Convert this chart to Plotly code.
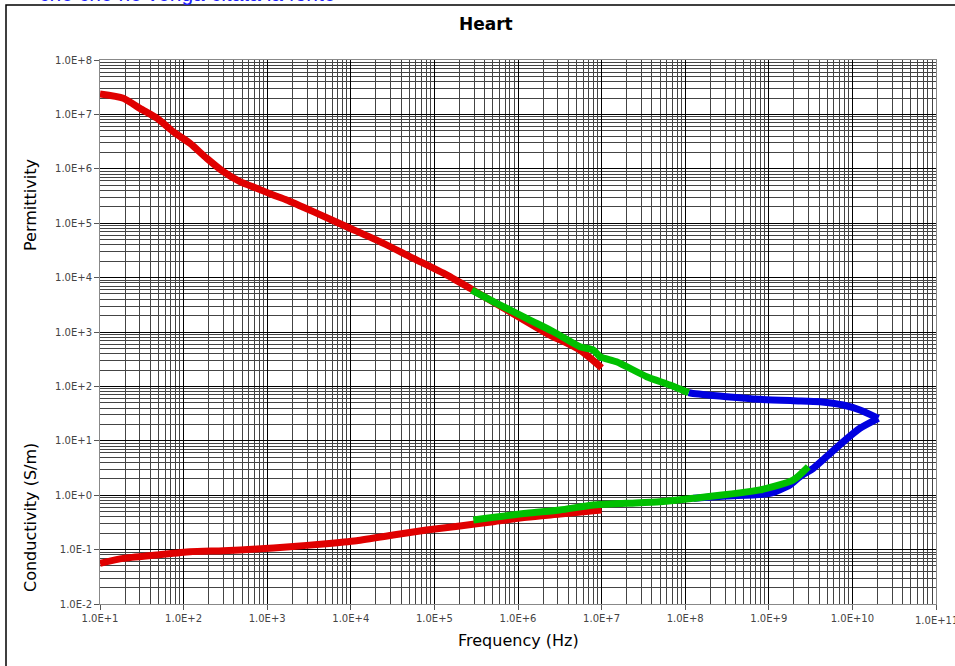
import plotly.graph_objects as go

# ---------------- data ----------------
perm_red_f = [10, 19, 30, 48, 75, 119, 189, 299, 473, 748, 1180, 1710, 3560, 8930,
              22300, 56000, 1.4e5, 2.67e5, 6.1e5, 2.2e6, 5.5e6, 1e7]
perm_red = [2.37e7, 1.98e7, 1.29e7, 8.5e6, 4.8e6, 2.94e6, 1.56e6, 8.85e5, 5.8e5, 4.38e5,
            3.3e5, 2.67e5, 1.63e5, 8.6e4, 4.57e4, 2.26e4, 1.12e4, 6.36e3, 3.0e3, 946, 467, 220]

perm_green_f = [2.8e5, 5.56e5, 1.39e6, 2.65e6, 5.5e6, 7.96e6, 9.57e6, 1.51e7, 3.46e7, 6.57e7, 1.1e8]
perm_green = [5.9e3, 3.37e3, 1.66e3, 1.01e3, 537, 467, 352, 284, 151, 106, 76.6]

perm_blue_f = [1.1e8, 1.19e8, 3.13e8, 7.85e8, 1.96e9, 4.09e9, 7.78e9, 1.23e10, 2.04e10]
perm_blue = [76.6, 74.6, 64.7, 58, 54.6, 52.4, 45.5, 36.8, 25.9]

cond_red_f = [10, 19, 47.5, 119, 299, 748, 1875, 4690, 1.17e4, 3.21e4, 8.07e4, 2.02e5,
              5.07e5, 1.27e6, 3.18e6, 7.96e6, 1e7]
cond_red = [0.056, 0.069, 0.0796, 0.0915, 0.0955, 0.1026, 0.113, 0.127, 0.146, 0.185,
            0.229, 0.272, 0.326, 0.393, 0.451, 0.519, 0.534]

cond_green_f = [2.92e5, 1.27e6, 3.17e6, 7.96e6, 1.99e7, 5.0e7, 1.25e8, 7.85e8, 1.96e9, 2.97e9]
cond_green = [0.35, 0.465, 0.535, 0.66, 0.71, 0.76, 0.877, 1.25, 1.9, 3.34]

cond_blue_f = [1.25e8, 3.13e8, 1.03e9, 1.79e9, 2.36e9, 3.4e9, 4.91e9, 7.78e9, 1.23e10, 2.04e10]
cond_blue = [0.877, 0.966, 1.08, 1.54, 2.19, 3.12, 5.1, 9.6, 17.0, 25.9]

x_tick_exp = list(range(1, 12))
x_tick_labels = ["1.0E+1", "1.0E+2", "1.0E+3", "1.0E+4", "1.0E+5", "1.0E+6",
                 "1.0E+7", "1.0E+8", "1.0E+9", "1.0E+10", "1.0E+11"]
y_tick_exp = list(range(-2, 9))
y_tick_labels = ["1.0E-2", "1.0E-1", "1.0E+0", "1.0E+1", "1.0E+2", "1.0E+3",
                 "1.0E+4", "1.0E+5", "1.0E+6", "1.0E+7", "1.0E+8"]

RED = "#e00000"
GREEN = "#00c000"
BLUE = "#0000e0"
LW = 7

fig = go.Figure()
series = [
    (perm_red_f, perm_red, RED),
    (cond_red_f, cond_red, RED),
    (perm_blue_f, perm_blue, BLUE),
    (cond_blue_f, cond_blue, BLUE),
    (perm_green_f, perm_green, GREEN),
    (cond_green_f, cond_green, GREEN),
]
for fx, fy, col in series:
    fig.add_trace(go.Scatter(x=fx, y=fy, mode="lines",
                             line=dict(color=col, width=LW, shape="spline", smoothing=0.6),
                             showlegend=False, hoverinfo="skip", cliponaxis=False))

minor_x = [k * 10 ** n for n in range(1, 11) for k in range(2, 10)]
minor_y = [k * 10 ** n for n in range(-2, 8) for k in range(2, 10)]

FONT = "DejaVu Sans, Liberation Sans, Arial, sans-serif"
FONT2 = "Liberation Sans, Arial, sans-serif"
TICKFONT = dict(family=FONT, size=10, color="#444")

common = dict(
    tickmode="array",
    tickfont=TICKFONT,
    ticks="outside", ticklen=5, tickcolor="#555",
    showgrid=True, gridcolor="#000", gridwidth=1,
    showline=True, linecolor="#888", linewidth=1, mirror=True,
    zeroline=False, automargin=False,
)
fig.update_xaxes(
    type="log", range=[1, 11],
    tickvals=[10 ** e for e in x_tick_exp], ticktext=x_tick_labels,
    minor=dict(tickmode="array", tickvals=minor_x, showgrid=True, gridcolor="#444", gridwidth=1, ticks=""),
    **common,
)
fig.update_yaxes(
    type="log", range=[-2, 8],
    tickvals=[10 ** e for e in y_tick_exp], ticktext=y_tick_labels,
    minor=dict(tickmode="array", tickvals=minor_y, showgrid=True, gridcolor="#444", gridwidth=1, ticks=""),
    **common,
)

W, H = 955, 666
L, R, T, B = 100, 19, 60, 62
PW, PH = W - L - R, H - T - B


def px(xp):
    return (xp - L) / PW


def py(yp):
    return (H - B - yp) / PH


fig.update_layout(
    width=W, height=H,
    margin=dict(l=L, r=R, t=T, b=B, autoexpand=False),
    paper_bgcolor="white", plot_bgcolor="white",
    font=dict(family=FONT, color="black"),
    shapes=[dict(type="rect", xref="paper", yref="paper",
                 x0=px(6), x1=px(960), y0=py(5), y1=py(675),
                 line=dict(color="black", width=1.5), fillcolor="rgba(0,0,0,0)", layer="below")],
    annotations=[
        dict(text="<b>Heart</b>", xref="paper", yref="paper", x=px(486), y=py(24),
             showarrow=False, xanchor="center", yanchor="middle",
             font=dict(family=FONT, size=17, color="black")),
        dict(text="Permittivity", xref="paper", yref="paper", x=px(30), y=py(205),
             showarrow=False, textangle=-90, xanchor="center", yanchor="middle",
             font=dict(family=FONT, size=16, color="black")),
        dict(text="Conductivity (S/m)", xref="paper", yref="paper", x=px(30), y=py(518),
             showarrow=False, textangle=-90, xanchor="center", yanchor="middle",
             font=dict(family=FONT, size=16, color="black")),
        dict(text="Frequency (Hz)", xref="paper", yref="paper", x=px(518), y=py(640),
             showarrow=False, xanchor="center", yanchor="middle",
             font=dict(family=FONT, size=16, color="black")),
        # last x tick label, clipped by the page edge as in the reference
        dict(text=x_tick_labels[-1], xref="x", yref="paper", x=x_tick_exp[-1], y=py(620),
             showarrow=False, xanchor="center", yanchor="middle", font=TICKFONT),
        dict(text="che che ne venga citata la fonte", xref="paper", yref="paper",
             x=px(338), y=py(-6.5), showarrow=False, xanchor="right", yanchor="middle",
             font=dict(family=FONT2, size=21, color="#2020ff")),
    ],
)

fig.write_html("out.html")
